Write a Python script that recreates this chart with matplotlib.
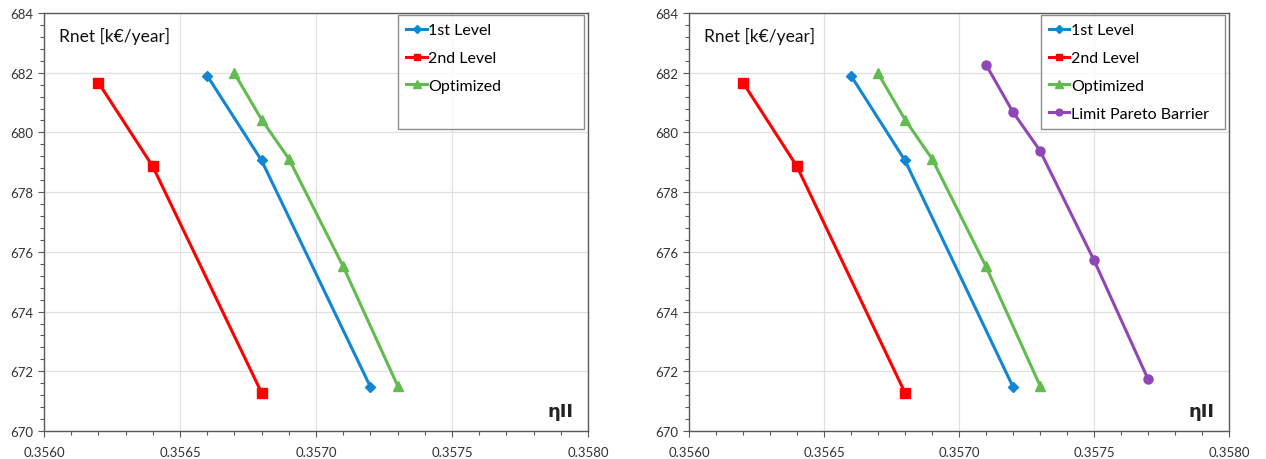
import matplotlib
matplotlib.use("Agg")
import matplotlib.pyplot as plt
from matplotlib.lines import Line2D
from matplotlib.ticker import MultipleLocator, FormatStrFormatter

plt.rcParams['font.family'] = ['Lato', 'DejaVu Sans']

# data
lvl1_x = [0.3566, 0.3568, 0.3572]
lvl1_y = [681.90, 679.06, 671.48]
lvl2_x = [0.3562, 0.3564, 0.3568]
lvl2_y = [681.67, 678.86, 671.28]
opt_x = [0.3567, 0.3568, 0.3569, 0.3571, 0.3573]
opt_y = [681.98, 680.43, 679.12, 675.51, 671.52]
lpb_x = [0.3571, 0.3572, 0.3573, 0.3575, 0.3577]
lpb_y = [682.27, 680.68, 679.39, 675.72, 671.74]

c_blue = '#1185D6'
c_red = '#FF0000'
c_green = '#62BB4E'
c_purple = '#9146B6'
frame_col = '#595959'

fig = plt.figure(figsize=(12.66, 4.6), dpi=100)
ax1 = fig.add_axes([44/1266, 28/460, 544/1266, 418/460])
ax2 = fig.add_axes([689/1266, 28/460, 540/1266, 418/460])


def style(ax):
    ax.set_xlim(0.3560, 0.3580)
    ax.set_ylim(670, 684)
    ax.xaxis.set_major_locator(MultipleLocator(0.0005))
    ax.xaxis.set_minor_locator(MultipleLocator(0.0001))
    ax.yaxis.set_major_locator(MultipleLocator(2))
    ax.yaxis.set_minor_locator(MultipleLocator(0.4))
    ax.xaxis.set_major_formatter(FormatStrFormatter('%.4f'))
    ax.yaxis.set_major_formatter(FormatStrFormatter('%d'))
    ax.grid(True, which='major', color='#E0E0E0', lw=0.9)
    ax.set_axisbelow(True)
    for s in ax.spines.values():
        s.set_color(frame_col)
        s.set_linewidth(1.0)
    ax.tick_params(which='major', direction='out', length=4, width=0.8,
                   color=frame_col, labelsize=9.5, labelcolor='#333333')
    ax.tick_params(which='minor', direction='out', length=3, width=0.8,
                   color=frame_col)
    ax.tick_params(axis='x', pad=7)
    ax.text(0.027, 0.945, 'Rnet [k€/year]', transform=ax.transAxes,
            fontsize=12.5, color='#111111', va='center', ha='left')
    ax.text(0.973, 0.048, 'ηII', transform=ax.transAxes, fontsize=13,
            fontweight='bold', color='#222222', ha='right', va='center',
            family=['DejaVu Sans'])


def series(ax, with_lpb):
    h = []
    h.append(ax.plot(lvl1_x, lvl1_y, color=c_blue, lw=2.2, marker='D', ms=5.5)[0])
    h.append(ax.plot(lvl2_x, lvl2_y, color=c_red, lw=2.2, marker='s', ms=6.5)[0])
    h.append(ax.plot(opt_x, opt_y, color=c_green, lw=2.2, marker='^', ms=7)[0])
    labels = ['1st Level', '2nd Level', 'Optimized']
    if with_lpb:
        h.append(ax.plot(lpb_x, lpb_y, color=c_purple, lw=2.2, marker='o', ms=6.5)[0])
        labels.append('Limit Pareto Barrier')
    else:
        h.append(Line2D([], [], color='none'))
        labels.append(' ')
    leg = ax.legend(h, labels, loc='upper left', mode='expand',
                    bbox_to_anchor=(0.651, 0.995, 0.342, 0.0),
                    fontsize=11.5, frameon=True, fancybox=False,
                    edgecolor='#707070', handlelength=1.3, handletextpad=0.1,
                    labelspacing=0.86, borderpad=0.5, borderaxespad=0.0,
                    markerscale=0.75)
    leg.get_frame().set_linewidth(1.0)


style(ax1)
style(ax2)
series(ax1, False)
series(ax2, True)

fig.savefig('out.png', dpi=100)
